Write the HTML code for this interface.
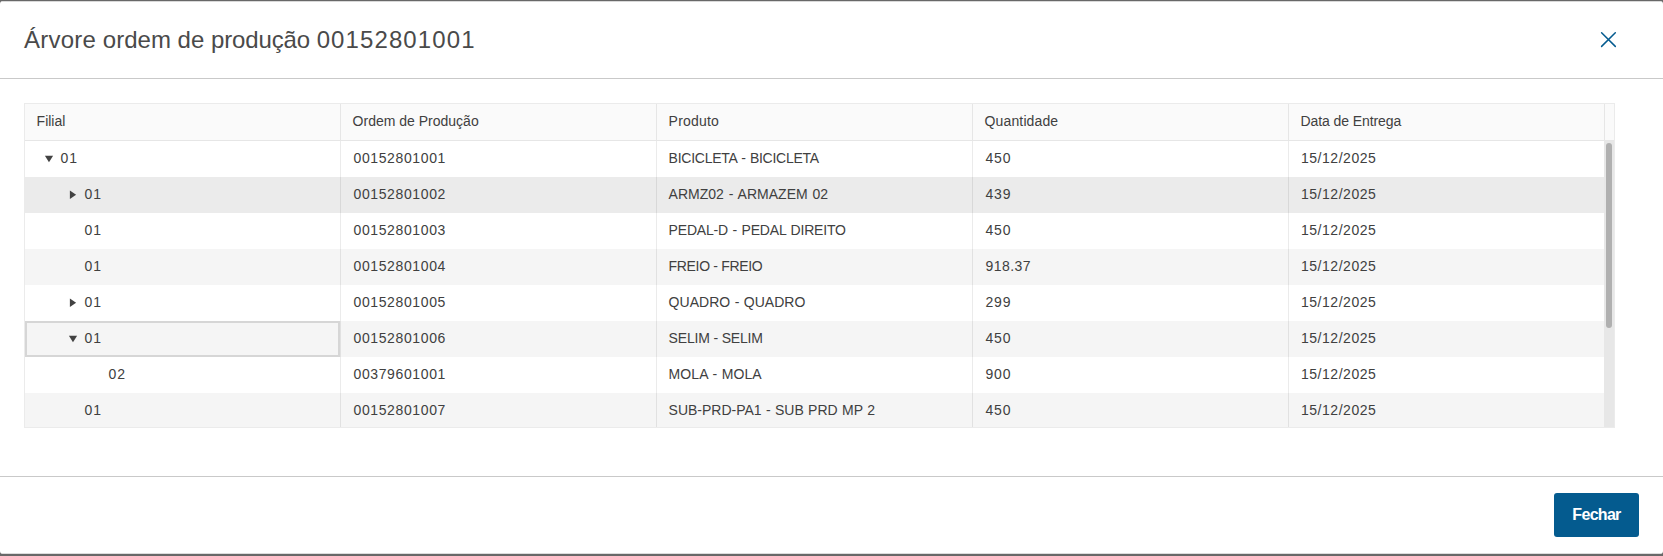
<!DOCTYPE html>
<html lang="pt-BR">
<head>
<meta charset="utf-8">
<title>Árvore ordem de produção</title>
<style>
*{box-sizing:border-box;margin:0;padding:0}
html,body{width:1663px;height:556px;overflow:hidden;background:#686868}
body{font-family:"Liberation Sans",sans-serif;color:#4a4a4a;position:relative}
.modal{position:absolute;left:0;top:1px;width:1663px;height:553px;background:#fff;border-radius:3px}
.modal:before,.modal:after{content:'';position:absolute;left:2px;right:2px;height:1px;top:0;background:#d9d9d9}
.modal:after{top:auto;bottom:0;background:#dcdcdc}
.hdr{position:absolute;left:0;top:0;width:100%;height:78px;border-bottom:1px solid #c9c9c9}
.title{position:absolute;left:24px;top:24px;font-size:24px;line-height:30px;color:#4a4a4a;white-space:nowrap}
.tb{letter-spacing:1.1px}
.tp{letter-spacing:-.125px}
.close{position:absolute;left:1600px;top:30px;width:17px;height:17px}
.ftr{position:absolute;left:0;top:475px;width:100%;height:78px;border-top:1px solid #c9c9c9}
.btn{position:absolute;left:1554px;top:16px;width:85px;height:44px;background:#045b8f;border-radius:3px;color:#fff;font-weight:bold;font-size:16px;line-height:44px;text-align:center;letter-spacing:-.7px}
.grid{position:absolute;left:24px;top:102px;width:1591px;height:325px;border:1px solid rgba(0,0,0,.08);overflow:hidden;font-size:14px;color:#404040}
.row{position:absolute;left:0;width:1579px;height:36px}
.row.alt{background:#f5f5f5}
.row.hov{background:#ebebeb}
.head{position:absolute;left:0;top:0;width:1589px;height:37px;background:#fafafa;border-bottom:1px solid rgba(0,0,0,.08)}
.c{position:absolute;top:0;height:100%;width:316px;border-left:1px solid rgba(0,0,0,.08);padding-left:11.6px;line-height:34px;white-space:nowrap}
.c0{left:-1px}.c1{left:315px}.c2{left:631px}.c3{left:947px}.c4{left:1263px}.c5{left:1579px;width:11px;padding:0}
.n{letter-spacing:.62px;padding-left:.9px}
.d{letter-spacing:.53px;padding-left:.4px}
.sb{position:absolute;left:1579px;top:37px;width:10px;height:288px;background:#e7e7e7}
.thumb{position:absolute;left:2px;top:2px;width:6px;height:185px;border-radius:3px;background:#b0b0b0}
.focus{box-shadow:inset 0 0 0 2px #d6d6d6}
.tri{position:absolute;top:0;left:0;width:316px;height:36px}
</style>
</head>
<body>
<div class="modal">
  <div class="hdr">
    <div class="title"><span class="ta"><span style="letter-spacing:.25px">Árvore</span> ordem de <span class="tp">produção</span> </span><span class="tb">00152801001</span></div>
    <svg class="close" viewBox="0 0 17 17"><path d="M1.6 1.7 L15.3 15.4 M15.3 1.7 L1.6 15.4" stroke="#045b8f" stroke-width="1.5" stroke-linecap="round" fill="none"/></svg>
  </div>
  <div class="grid">
    <div class="head">
      <div class="c c0">Filial</div><div class="c c1">Ordem de Produção</div><div class="c c2" style="letter-spacing:.2px">Produto</div><div class="c c3" style="letter-spacing:.13px">Quantidade</div><div class="c c4" style="letter-spacing:-.09px">Data de Entrega</div><div class="c c5"></div>
    </div>
    <div class="row" style="top:37px"><div class="c c0"><svg class="tri" viewBox="0 0 316 36"><polygon points="19.9,14.8 28.1,14.8 24,21.2" fill="#424242"/></svg><span class="n" style="margin-left:23px;letter-spacing:1px">01</span></div><div class="c c1"><span class="n">00152801001</span></div><div class="c c2" style="letter-spacing:-0.25px;word-spacing:0.65px">BICICLETA - BICICLETA</div><div class="c c3"><span class="n" style="letter-spacing:0.8px">450</span></div><div class="c c4"><span class="d">15/12/2025</span></div></div>
    <div class="row hov" style="top:73px"><div class="c c0"><svg class="tri" viewBox="0 0 316 36"><polygon points="44.9,13.6 44.9,21.9 51.1,17.75" fill="#424242"/></svg><span class="n" style="margin-left:47px;letter-spacing:1px">01</span></div><div class="c c1"><span class="n">00152801002</span></div><div class="c c2" style="letter-spacing:0.01px;word-spacing:1.0px">ARMZ02 - ARMAZEM 02</div><div class="c c3"><span class="n" style="letter-spacing:0.8px">439</span></div><div class="c c4"><span class="d">15/12/2025</span></div></div>
    <div class="row" style="top:109px"><div class="c c0"><span class="n" style="margin-left:47px;letter-spacing:1px">01</span></div><div class="c c1"><span class="n">00152801003</span></div><div class="c c2" style="letter-spacing:-0.18px;word-spacing:0.8px">PEDAL-D - PEDAL DIREITO</div><div class="c c3"><span class="n" style="letter-spacing:0.8px">450</span></div><div class="c c4"><span class="d">15/12/2025</span></div></div>
    <div class="row alt" style="top:145px"><div class="c c0"><span class="n" style="margin-left:47px;letter-spacing:1px">01</span></div><div class="c c1"><span class="n">00152801004</span></div><div class="c c2" style="letter-spacing:-0.33px;word-spacing:0px">FREIO - FREIO</div><div class="c c3"><span class="n" style="letter-spacing:0.45px">918.37</span></div><div class="c c4"><span class="d">15/12/2025</span></div></div>
    <div class="row" style="top:181px"><div class="c c0"><svg class="tri" viewBox="0 0 316 36"><polygon points="44.9,13.6 44.9,21.9 51.1,17.75" fill="#424242"/></svg><span class="n" style="margin-left:47px;letter-spacing:1px">01</span></div><div class="c c1"><span class="n">00152801005</span></div><div class="c c2" style="letter-spacing:0.03px;word-spacing:0.5px">QUADRO - QUADRO</div><div class="c c3"><span class="n" style="letter-spacing:0.8px">299</span></div><div class="c c4"><span class="d">15/12/2025</span></div></div>
    <div class="row alt" style="top:217px"><div class="c c0 focus"><svg class="tri" viewBox="0 0 316 36"><polygon points="43.9,14.8 52.1,14.8 48,21.2" fill="#424242"/></svg><span class="n" style="margin-left:47px;letter-spacing:1px">01</span></div><div class="c c1"><span class="n">00152801006</span></div><div class="c c2" style="letter-spacing:-0.175px;word-spacing:0px">SELIM - SELIM</div><div class="c c3"><span class="n" style="letter-spacing:0.8px">450</span></div><div class="c c4"><span class="d">15/12/2025</span></div></div>
    <div class="row" style="top:253px"><div class="c c0"><span class="n" style="margin-left:71px;letter-spacing:1px">02</span></div><div class="c c1"><span class="n">00379601001</span></div><div class="c c2" style="letter-spacing:0.1px;word-spacing:0.5px">MOLA - MOLA</div><div class="c c3"><span class="n" style="letter-spacing:0.8px">900</span></div><div class="c c4"><span class="d">15/12/2025</span></div></div>
    <div class="row alt" style="top:289px"><div class="c c0"><span class="n" style="margin-left:47px;letter-spacing:1px">01</span></div><div class="c c1"><span class="n">00152801007</span></div><div class="c c2" style="letter-spacing:-0.01px;word-spacing:0.5px">SUB-PRD-PA1 - SUB PRD MP 2</div><div class="c c3"><span class="n" style="letter-spacing:0.8px">450</span></div><div class="c c4"><span class="d">15/12/2025</span></div></div>
    <div class="sb"><div class="thumb"></div></div>
  </div>
  <div class="ftr"><div class="btn">Fechar</div></div>
</div>
</body>
</html>
